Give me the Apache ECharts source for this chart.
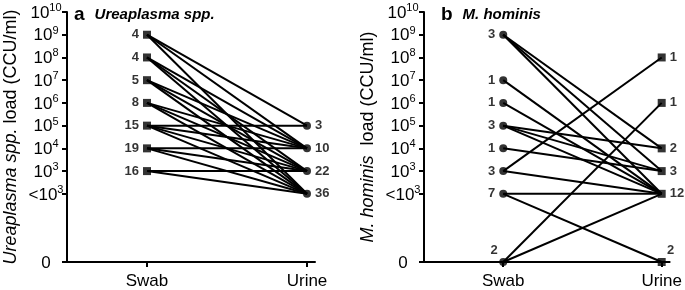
<!DOCTYPE html>
<html>
<head>
<meta charset="utf-8">
<script src="https://cdn.jsdelivr.net/npm/echarts@6/dist/echarts.min.js"></script>
<style>
html,body{margin:0;padding:0;background:#fff}
#chart{width:685px;height:290px}
</style>
</head>
<body>
<div id="chart"></div>
<script>
// categories on the x axis
var categories = ['Swab', 'Urine'];

// y positions: 0 = "0", 3 = "<10^3", 4 = 10^3 ... 11 = 10^10
var yTickValues = [0, 3, 4, 5, 6, 7, 8, 9, 10, 11];
var yTickBase = ['0', '<10', '10', '10', '10', '10', '10', '10', '10', '10'];
var yTickExp = ['', '3', '3', '4', '5', '6', '7', '8', '9', '10'];

// panel a - Ureaplasma spp.
var ureaSwabLevels = [10, 9, 8, 7, 6, 5, 4];
var ureaSwabCounts = [4, 4, 5, 8, 15, 19, 16];
var ureaUrineLevels = [6, 5, 4, 3];
var ureaUrineCounts = [3, 10, 22, 36];
var ureaLinks = [
	[10, 6], [10, 5], [10, 3],
	[9, 5], [9, 4], [9, 3],
	[8, 5], [8, 4], [8, 3],
	[7, 5], [7, 4], [7, 3],
	[6, 6], [6, 5], [6, 4], [6, 3],
	[5, 5], [5, 4], [5, 3],
	[4, 4], [4, 3]
];

// panel b - M. hominis
var mhomSwabLevels = [10, 8, 7, 6, 5, 4, 3, 0];
var mhomSwabCounts = [3, 1, 1, 3, 1, 3, 7, 2];
var mhomUrineLevels = [9, 7, 5, 4, 3, 0];
var mhomUrineCounts = [1, 1, 2, 3, 12, 2];
var mhomLinks = [
	[10, 5], [10, 4], [10, 3],
	[8, 3], [7, 3],
	[6, 5], [6, 4], [6, 3],
	[5, 4],
	[4, 9], [4, 3],
	[3, 3], [3, 0],
	[0, 7], [0, 3]
];

var FONT = 'Liberation Sans, Arial, sans-serif';

function yLabel(v){
	var i = yTickValues.indexOf(v);
	if (i < 0) return '';
	if (yTickExp[i] === '') return '{b|' + yTickBase[i] + '}';
	return '{b|' + yTickBase[i] + '}{s|' + yTickExp[i] + '}';
}

function makeXAxis(idx){
	return {
		type: 'value', gridIndex: idx, min: -0.5, max: 1.05,
		splitLine: {show: false},
		axisLine: {lineStyle: {color: '#000', width: 2}},
		axisTick: {customValues: [0, 1], length: 5, lineStyle: {color: '#000', width: 2}},
		axisLabel: {
			customValues: [0, 1], margin: 11,
			color: '#000', fontSize: 17, fontFamily: FONT,
			formatter: function(v){ return categories[Math.round(v)]; }
		}
	};
}

function makeYAxis(idx, name){
	return {
		type: 'value', gridIndex: idx, min: 0, max: 11,
		splitLine: {show: false},
		axisLine: {show: true, onZero: false, lineStyle: {color: '#000', width: 2}},
		axisTick: {customValues: yTickValues, length: 5, lineStyle: {color: '#000', width: 2}},
		axisLabel: {
			customValues: yTickValues, margin: 21, align: 'center',
			showMaxLabel: true, showMinLabel: true,
			formatter: yLabel,
			rich: {
				b: {fontSize: 17, fontFamily: FONT, color: '#000', lineHeight: 19, verticalAlign: 'bottom'},
				s: {fontSize: 11, fontFamily: FONT, color: '#000', lineHeight: 11, verticalAlign: 'top'}
			}
		},
		name: name, nameLocation: 'middle', nameRotate: 90, nameGap: 47,
		nameTextStyle: {
			fontSize: 18, fontFamily: FONT, color: '#000',
			rich: {i: {fontSize: 18, fontFamily: FONT, color: '#000', fontStyle: 'italic'}}
		}
	};
}

function linkSeries(links, idx){
	var out = [];
	for (var i = 0; i < links.length; i++) {
		out.push({
			type: 'line', xAxisIndex: idx, yAxisIndex: idx,
			data: [[0, links[i][0]], [1, links[i][1]]],
			symbol: 'none', silent: true, clip: false,
			lineStyle: {color: '#000', width: 2}
		});
	}
	return out;
}

function pointSeries(x, levels, counts, symbol, side, idx){
	var data = [];
	for (var i = 0; i < levels.length; i++) {
		var item = {value: [x, levels[i]], count: counts[i]};
		if (levels[i] === 0) {
			item.label = {position: 'top', offset: [side === 'left' ? -9 : 9, 3]};
		}
		data.push(item);
	}
	return {
		type: 'scatter', xAxisIndex: idx, yAxisIndex: idx, z: 5,
		data: data, symbol: symbol, symbolSize: 8, clip: false,
		itemStyle: {color: '#000'},
		label: {
			show: true, position: side, distance: 4,
			color: '#000', fontSize: 13, fontWeight: 'bold', fontFamily: FONT,
			formatter: function(p){ return p.data.count; }
		}
	};
}

var myChart = echarts.init(document.getElementById('chart'));
var series = []
	.concat(linkSeries(ureaLinks, 0))
	.concat(linkSeries(mhomLinks, 1));
series.push(pointSeries(0, ureaSwabLevels, ureaSwabCounts, 'rect', 'left', 0));
series.push(pointSeries(1, ureaUrineLevels, ureaUrineCounts, 'circle', 'right', 0));
series.push(pointSeries(0, mhomSwabLevels, mhomSwabCounts, 'circle', 'left', 1));
series.push(pointSeries(1, mhomUrineLevels, mhomUrineCounts, 'rect', 'right', 1));

var option = {
	animation: false,
	backgroundColor: '#fff',
	title: [{
		text: '{a|a}  {t|Ureaplasma spp.}', left: 69, top: -1,
		textStyle: {
			rich: {
				a: {fontSize: 19, fontWeight: 'bold', fontFamily: FONT, color: '#000', lineHeight: 22},
				t: {fontSize: 15, fontWeight: 'bold', fontStyle: 'italic', fontFamily: FONT, color: '#000', lineHeight: 22}
			}
		}
	}, {
		text: '{a|b}  {t|M. hominis}', left: 436, top: -1,
		textStyle: {
			rich: {
				a: {fontSize: 19, fontWeight: 'bold', fontFamily: FONT, color: '#000', lineHeight: 22},
				t: {fontSize: 15, fontWeight: 'bold', fontStyle: 'italic', fontFamily: FONT, color: '#000', lineHeight: 22}
			}
		}
	}],
	grid: [
		{left: 67, top: 12, width: 248, height: 255},
		{left: 424, top: 12, width: 248, height: 255}
	],
	xAxis: [makeXAxis(0), makeXAxis(1)],
	yAxis: [
		makeYAxis(0, '{i|Ureaplasma spp.} load (CCU/ml)'),
		makeYAxis(1, '{i|M. hominis}  load (CCU/ml)')
	],
	series: series
};
myChart.setOption(option);
</script>
</body>
</html>
